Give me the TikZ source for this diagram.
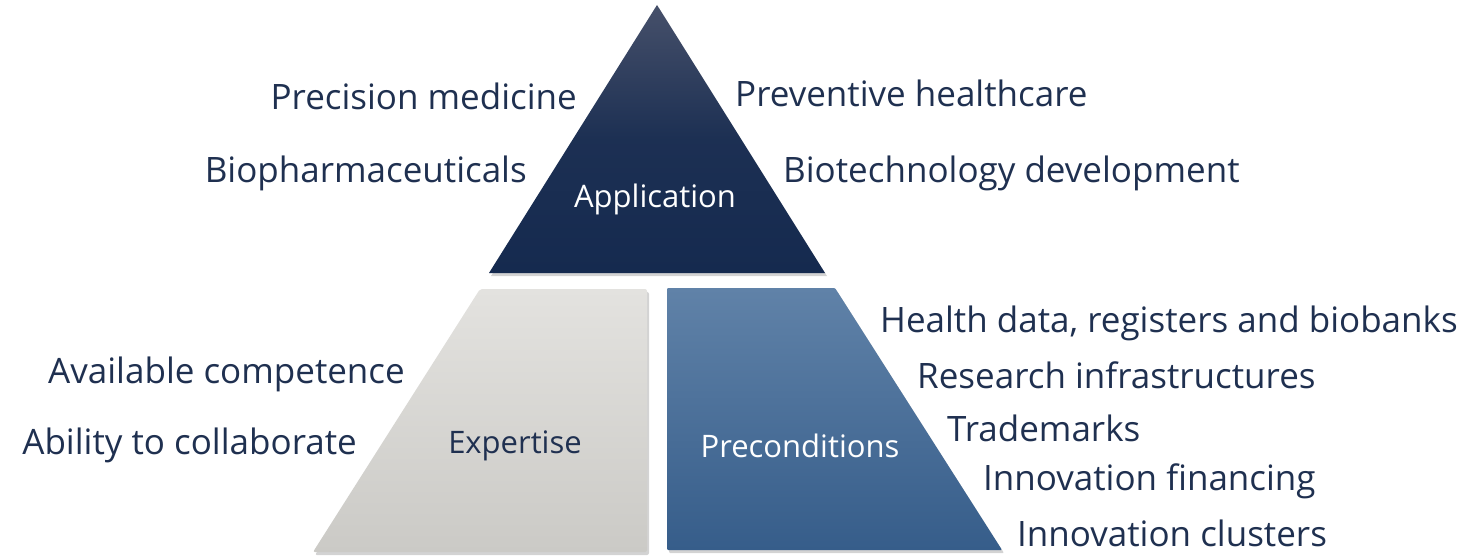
\documentclass[tikz,border=0pt]{standalone}
\usepackage{fontspec}
\setmainfont{Open Sans}
\usetikzlibrary{shadows}
\definecolor{navytxt}{HTML}{1F3050}
\definecolor{apptop}{HTML}{46506A}
\definecolor{appbot}{HTML}{152A4F}
\definecolor{exptop}{HTML}{E3E2DF}
\definecolor{expbot}{HTML}{CBCAC6}
\definecolor{pretop}{HTML}{6082A8}
\definecolor{prebot}{HTML}{365D8A}
\tikzset{
  item/.style={text=navytxt, font=\fontsize{35}{40}\selectfont, inner sep=0pt, yshift=-3pt},
  inlabel/.style={font=\fontsize{31}{36}\selectfont, inner sep=0pt, yshift=-3pt},
  shapeshadow/.style={drop shadow={opacity=0.35, shadow xshift=2pt, shadow yshift=-3pt}},
}
\begin{document}
\begin{tikzpicture}[x=1pt,y=-1pt]
\useasboundingbox (0,0) rectangle (1472,556);
% top triangle
\path[shapeshadow, top color=apptop, bottom color=appbot, middle color=appbot!85!apptop]
  (657,5) -- (825,273) -- (489,273) -- cycle;
% expertise trapezoid
\path[shapeshadow, top color=exptop, bottom color=expbot, rounded corners=2pt]
  (480,289) -- (647,289) -- (647,552) -- (313,552) -- cycle;
% preconditions trapezoid
\path[shapeshadow, top color=pretop, bottom color=prebot, rounded corners=1pt]
  (667,288) -- (835,288) -- (1002,550) -- (667,550) -- cycle;
% inner labels
\node[inlabel, text=white] (app) at (655,196) {Application};
\node[inlabel, text=navytxt] (exp) at (515,443) {Expertise};
\node[inlabel, text=white] (pre) at (800,443) {Preconditions};
% left texts
\node[item, anchor=east] (pm) at (577,93) {Precision medicine};
\node[item, anchor=east] (bp) at (527,170) {Biopharmaceuticals};
\node[item, anchor=east] (ac) at (405,371) {Available competence};
\node[item, anchor=east] (ab) at (357,442) {Ability to collaborate};
% right texts
\node[item, anchor=west] (ph) at (735,90) {Preventive healthcare};
\node[item, anchor=west] (bd) at (783,170) {Biotechnology development};
\node[item, anchor=west] (hd) at (880,320) {Health data, registers and biobanks};
\node[item, anchor=west] (ri) at (917,372) {Research infrastructures};
\node[item, anchor=west] (tm) at (947,425) {Trademarks};
\node[item, anchor=west] (if) at (983,478) {Innovation financing};
\node[item, anchor=west] (ic) at (1017,530) {Innovation clusters};
\end{tikzpicture}
\end{document}
